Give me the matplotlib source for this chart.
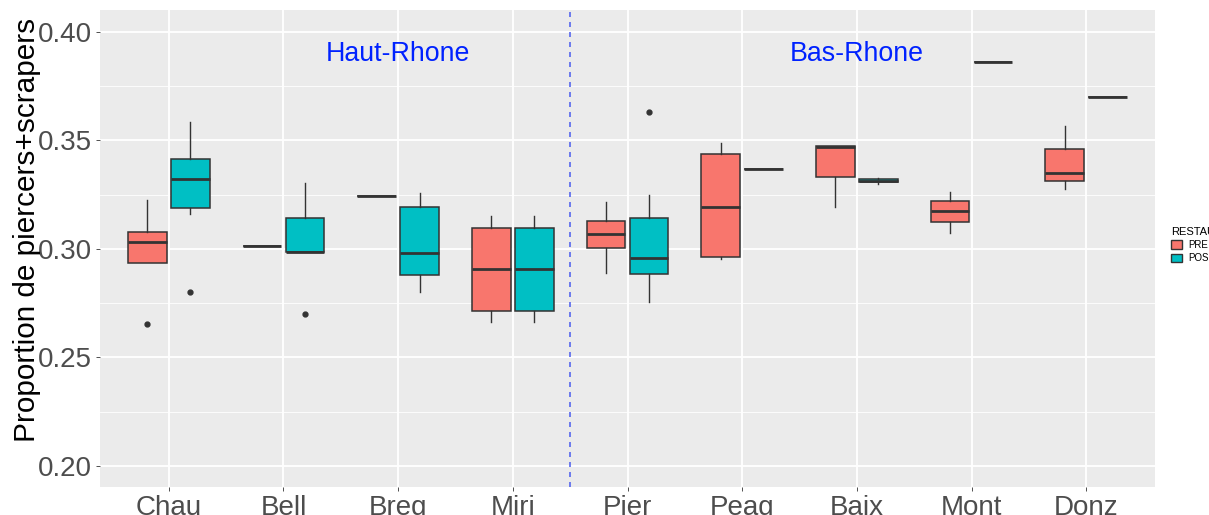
import matplotlib
matplotlib.use("Agg")
import matplotlib.pyplot as plt
from matplotlib.patches import Patch
from matplotlib.ticker import MultipleLocator, FormatStrFormatter

plt.rcParams['font.family'] = ['Liberation Sans', 'DejaVu Sans']

sites = ['Chau', 'Bell', 'Breg', 'Miri', 'Pier', 'Peag', 'Baix', 'Mont', 'Donz']

# summary stats: whisker low, q1, median, q3, whisker high
pre_whislo = [0.2934, 0.3015, 0.3246, 0.2662, 0.2891, 0.2953, 0.3192, 0.3075, 0.3277]
pre_q1     = [0.2934, 0.3015, 0.3246, 0.2713, 0.3003, 0.2965, 0.3330, 0.3124, 0.3312]
pre_med    = [0.3031, 0.3015, 0.3246, 0.2908, 0.3069, 0.3195, 0.3470, 0.3175, 0.3352]
pre_q3     = [0.3080, 0.3015, 0.3246, 0.3098, 0.3128, 0.3438, 0.3473, 0.3220, 0.3461]
pre_whishi = [0.3226, 0.3015, 0.3246, 0.3151, 0.3215, 0.3487, 0.3473, 0.3263, 0.3567]
pre_fliers = [[0.2653], [], [], [], [], [], [], [], []]

pos_whislo = [0.3160, 0.2986, 0.2803, 0.2662, 0.2754, 0.3367, 0.3301, 0.3860, 0.3699]
pos_q1     = [0.3188, 0.2986, 0.2879, 0.2713, 0.2885, 0.3367, 0.3309, 0.3860, 0.3699]
pos_med    = [0.3323, 0.2986, 0.2979, 0.2908, 0.2960, 0.3367, 0.3315, 0.3860, 0.3699]
pos_q3     = [0.3415, 0.3144, 0.3192, 0.3098, 0.3144, 0.3367, 0.3321, 0.3860, 0.3699]
pos_whishi = [0.3587, 0.3304, 0.3258, 0.3151, 0.3250, 0.3367, 0.3326, 0.3860, 0.3699]
pos_fliers = [[0.2802], [0.2701], [], [], [0.3631], [], [], [], []]

red = '#F8766D'
teal = '#00BFC4'
edge = '#333333'

fig = plt.figure(figsize=(12.09, 5.15), dpi=100)
ax = fig.add_axes([100/1209, 28/515, 1055/1209, 477/515])
ax.set_facecolor('#EBEBEB')


def stats(lo, q1, med, q3, hi, fl):
    return [dict(whislo=a, q1=b, med=c, q3=d, whishi=e, fliers=f)
            for a, b, c, d, e, f in zip(lo, q1, med, q3, hi, fl)]


pos = range(1, len(sites) + 1)
for st, off, col in [(stats(pre_whislo, pre_q1, pre_med, pre_q3, pre_whishi, pre_fliers), -0.1875, red),
                     (stats(pos_whislo, pos_q1, pos_med, pos_q3, pos_whishi, pos_fliers), 0.1875, teal)]:
    ax.bxp(st, positions=[p + off for p in pos], widths=0.3375, patch_artist=True,
           showcaps=False,
           boxprops=dict(facecolor=col, edgecolor=edge, linewidth=1.1),
           medianprops=dict(color=edge, linewidth=2.0, solid_capstyle='butt'),
           whiskerprops=dict(color=edge, linewidth=1.0),
           flierprops=dict(marker='o', markerfacecolor=edge, markeredgecolor=edge, markersize=3.5),
           zorder=3)

ax.axvline(4.5, color='#5566EE', linestyle=(0, (3, 3)), linewidth=1.2, zorder=2.5)

ax.text(3, 0.39, 'Haut-Rhone', color='#0022FF', fontsize=19.3, ha='center', va='center', zorder=4)
ax.text(7, 0.39, 'Bas-Rhone', color='#0022FF', fontsize=19.3, ha='center', va='center', zorder=4)

ax.set_xlim(0.4, 9.6)
ax.set_ylim(0.1903, 0.4101)
ax.set_xticks(list(pos))
ax.set_xticklabels(sites)
ax.yaxis.set_major_locator(MultipleLocator(0.05))
ax.yaxis.set_minor_locator(MultipleLocator(0.025))
ax.yaxis.set_major_formatter(FormatStrFormatter('%.2f'))

ax.grid(True, which='major', color='white', linewidth=1.3, zorder=0)
ax.grid(True, which='minor', axis='y', color='white', linewidth=0.6, zorder=0)
ax.set_axisbelow(True)
for s in ax.spines.values():
    s.set_visible(False)

ax.tick_params(axis='both', which='major', length=3, width=0.6, color=edge,
               labelsize=20, labelcolor='#4D4D4D', pad=2.5)
ax.tick_params(axis='y', which='minor', length=0)
ax.set_ylabel('Proportion de piercers+scrapers', fontsize=21.4, color='black')
ax.yaxis.set_label_coords(-0.069, 0.539)
ax.yaxis.label.set_va('center')

handles = [Patch(facecolor=red, edgecolor=edge, label='PRE'),
           Patch(facecolor=teal, edgecolor=edge, label='POS')]
fig.legend(handles=handles, title='RESTAU', loc='center left',
           bbox_to_anchor=(1162/1209, 1 - 245/515), frameon=False,
           fontsize=7, title_fontsize=8, handlelength=1.2, handleheight=1.0,
           handletextpad=0.6, labelspacing=0.35, alignment='left')

fig.savefig('out.png', dpi=100)
